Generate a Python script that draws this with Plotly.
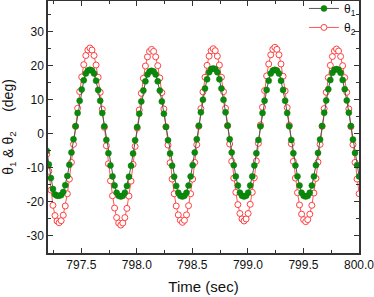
import plotly.graph_objects as go

# sampling of the recorded time series
t_start = 797.189
t_step = 0.0185

theta1 = [
    -5.0, -9.0, -13.0, -16.2, -17.8, -18.2, -18.2, -18.0, -17.1, -15.1,
    -12.4, -9.1, -5.5, -1.6, 2.2, 6.1, 9.7, 13.0, 15.7, 17.7,
    18.6, 18.8, 18.6, 17.7, 15.6, 12.9, 9.7, 6.1, 2.2, -1.8,
    -5.7, -9.3, -12.5, -15.2, -17.3, -18.2, -18.4, -18.2, -17.3, -15.3,
    -12.6, -9.4, -5.8, -1.9, 2.0, 5.9, 9.5, 12.7, 15.4, 17.4,
    18.3, 18.5, 18.3, 17.4, 15.4, 12.7, 9.5, 5.9, 2.0, -1.9,
    -5.8, -9.4, -12.6, -15.3, -17.3, -18.2, -18.4, -18.2, -17.3, -15.2,
    -12.5, -9.2, -5.5, -1.6, 2.4, 6.3, 10.0, 13.3, 16.0, 18.1,
    19.0, 19.2, 19.0, 18.1, 16.0, 13.3, 10.0, 6.3, 2.4, -1.6,
    -5.5, -9.2, -12.5, -15.2, -17.3, -18.2, -18.4, -18.2, -17.3, -15.2,
    -12.5, -9.3, -5.7, -1.8, 2.2, 6.1, 9.7, 12.9, 15.6, 17.7,
    18.6, 18.8, 18.6, 17.7, 15.6, 12.9, 9.7, 6.1, 2.2, -1.8,
    -5.7, -9.3, -12.5, -15.2, -17.3, -18.2, -18.4, -18.2, -17.3, -15.2,
    -12.5, -9.2, -5.6, -1.7, 2.3, 6.2, 9.8, 13.1, 15.8, 17.9,
    18.8, 19.0, 18.8, 17.9, 15.8, 13.1, 9.8, 6.2, 2.3, -1.7,
    -5.6, -9.2, -12.5,
]

theta2 = [
    -6.0, -11.0, -16.5, -21.0, -24.0, -25.6, -26.1, -25.5, -23.9, -21.2,
    -17.6, -13.3, -8.4, -3.1, 2.2, 7.5, 12.4, 16.7, 20.3, 23.0,
    24.6, 25.2, 24.6, 23.0, 20.2, 16.6, 12.2, 7.2, 1.9, -3.5,
    -8.8, -13.8, -18.2, -21.8, -24.6, -26.2, -26.8, -26.2, -24.6, -21.9,
    -18.3, -13.9, -9.0, -3.7, 1.7, 7.0, 11.9, 16.3, 19.9, 22.6,
    24.2, 24.8, 24.2, 22.6, 20.0, 16.4, 12.1, 7.3, 2.1, -3.3,
    -8.5, -13.3, -17.6, -21.2, -23.8, -25.4, -26.0, -25.4, -23.8, -21.1,
    -17.6, -13.3, -8.4, -3.2, 2.2, 7.4, 12.3, 16.6, 20.1, 22.8,
    24.4, 25.0, 24.4, 22.8, 20.2, 16.6, 12.4, 7.5, 2.4, -3.0,
    -8.1, -13.0, -17.2, -20.8, -23.4, -25.0, -25.6, -25.0, -23.4, -20.7,
    -17.2, -12.9, -8.0, -2.8, 2.6, 7.8, 12.7, 17.0, 20.5, 23.2,
    24.8, 25.4, 24.8, 23.2, 20.5, 16.9, 12.6, 7.7, 2.5, -2.9,
    -8.1, -13.0, -17.3, -20.9, -23.6, -25.2, -25.8, -25.2, -23.6, -21.0,
    -17.4, -13.1, -8.3, -3.1, 2.2, 7.4, 12.2, 16.5, 20.1, 22.7,
    24.3, 24.9, 24.3, 22.7, 20.0, 16.5, 12.2, 7.3, 2.1, -3.2,
    -8.4, -13.3, -17.6,
]

time = [round(t_start + i * t_step, 4) for i in range(len(theta1))]

x_ticks = [797.5, 798.0, 798.5, 799.0, 799.5, 800.0]
y_ticks = [-30, -20, -10, 0, 10, 20, 30]
y_tick_labels = ["-30", "-20", "-10", "0", "10", "20", "30"]

fig = go.Figure()
fig.add_trace(go.Scatter(
    x=time, y=theta2, mode="lines+markers", name="θ<sub>2</sub>",
    line=dict(color="#ff5555", width=1),
    marker=dict(symbol="circle", size=6, color="white",
                line=dict(color="#ff4040", width=1)),
    legendrank=2,
))
fig.add_trace(go.Scatter(
    x=time, y=theta1, mode="lines+markers", name="θ<sub>1</sub>",
    line=dict(color="#555555", width=1),
    marker=dict(symbol="circle", size=6, color="#0a8a0a",
                line=dict(color="#0a7a0a", width=0.5)),
    legendrank=1,
))

axis_common = dict(
    showline=True, linecolor="#333333", linewidth=1.5, mirror="ticks",
    ticks="inside", ticklen=5, tickwidth=1, tickcolor="#333333",
    showgrid=False, zeroline=False, automargin=False,
    ticklabeloverflow="allow",
    tickfont=dict(family="Liberation Sans, Arial", size=12, color="#111111"),
)

fig.update_xaxes(
    range=[797.2, 800.0], tickvals=x_ticks, tickformat=".1f",
    minor=dict(ticks="inside", ticklen=3, dtick=0.25, tick0=797.25,
               tickcolor="#333333", showgrid=False),
    title=dict(text="Time (sec)", standoff=10,
               font=dict(family="Liberation Sans, Arial", size=15, color="#111111")),
    **axis_common,
)
fig.update_yaxes(
    range=[-35, 39], tickvals=y_ticks, ticktext=y_tick_labels,
    minor=dict(ticks="inside", ticklen=3, dtick=5, tick0=-35,
               tickcolor="#333333", showgrid=False),
    title=dict(text="θ<sub>1</sub> & θ<sub>2</sub>     (deg)", standoff=16,
               font=dict(family="Liberation Sans, Arial", size=14, color="#111111")),
    **axis_common,
)

fig.update_layout(
    width=374, height=297, autosize=False,
    margin=dict(l=48, r=15, t=1, b=44, autoexpand=False),
    paper_bgcolor="white", plot_bgcolor="white",
    showlegend=True,
    legend=dict(x=0.823, y=1.028, xanchor="left", yanchor="top",
                bgcolor="rgba(255,255,255,0)", borderwidth=0,
                font=dict(family="Liberation Sans, Arial", size=12, color="#111111"),
                tracegroupgap=0, itemwidth=30),
)

fig.write_html("out.html",
               config={"displayModeBar": False},
               post_script="document.body.style.margin='0';document.body.style.overflow='hidden';")
